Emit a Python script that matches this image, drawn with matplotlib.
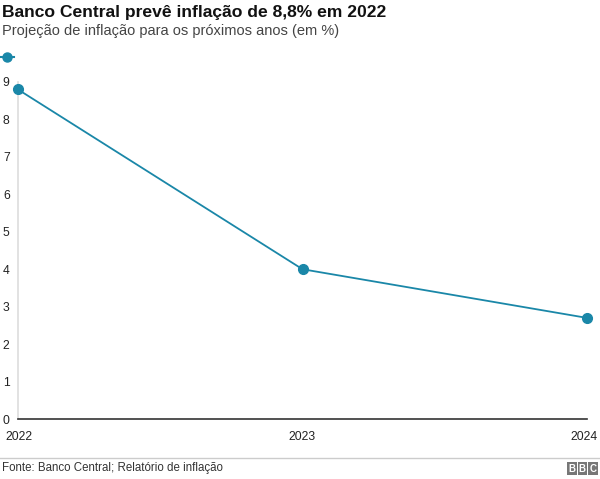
import matplotlib
matplotlib.use("Agg")
import matplotlib.pyplot as plt
from matplotlib.patches import Rectangle
from matplotlib.lines import Line2D

years = ["2022", "2023", "2024"]
values = [8.8, 4.0, 2.7]
yticks = [0, 1, 2, 3, 4, 5, 6, 7, 8, 9]

plt.rcParams['font.family'] = ['Liberation Sans', 'DejaVu Sans']
color = '#1a87a8'

fig = plt.figure(figsize=(6, 4.79), dpi=100)
W, H = 600, 479
def fx(px): return px / W
def fy(py): return 1 - py / H

ax = fig.add_axes([fx(18), fy(419), fx(587) - fx(18), fy(82) - fy(419)])
x = list(range(len(years)))
ax.plot(x, values, color=color, lw=1.3, marker='o', ms=7, markerfacecolor=color,
        markeredgecolor=color, clip_on=False, zorder=5)
ax.set_xlim(0, len(years) - 1)
ax.set_ylim(0, 9)
ax.set_yticks(yticks)
ax.set_yticklabels([str(t) for t in yticks], fontsize=8.7, color='#222222')
ax.tick_params(axis='y', length=0, pad=6)
ax.set_xticks([])
for s in ['top', 'right']:
    ax.spines[s].set_visible(False)
ax.spines['left'].set_color('#dddddd')
ax.spines['left'].set_linewidth(1.2)
ax.spines['bottom'].set_color('#333333')
ax.spines['bottom'].set_linewidth(1.2)
ax.patch.set_alpha(0)

# x labels
fig.text(fx(5), fy(437), years[0], ha='left', va='center', fontsize=8.7, color='#222222')
fig.text(fx(302), fy(437), years[1], ha='center', va='center', fontsize=8.7, color='#222222')
fig.text(fx(598), fy(437), years[2], ha='right', va='center', fontsize=8.7, color='#222222')

# titles
fig.text(fx(2), fy(12), "Banco Central prevê inflação de 8,8% em 2022", ha='left', va='center',
         fontsize=12.6, fontweight='bold', color='#111111')
fig.text(fx(2), fy(31), "Projeção de inflação para os próximos anos (em %)", ha='left', va='center',
         fontsize=10.5, color='#444444')

# legend marker
fig.add_artist(Line2D([fx(0), fx(14)], [fy(57), fy(57)], color=color, lw=1.5,
                      marker=None, transform=fig.transFigure))
fig.add_artist(Line2D([fx(7)], [fy(57)], color=color, marker='o', ms=6.5,
                      transform=fig.transFigure))

# footer line
fig.add_artist(Line2D([0, 1], [fy(458), fy(458)], color='#cccccc', lw=1,
                      transform=fig.transFigure))
fig.text(fx(2), fy(468), "Fonte: Banco Central; Relatório de inflação", ha='left', va='center',
         fontsize=8.3, color='#333333')

# BBC logo
for i, letter in enumerate("BBC"):
    x0 = 567 + i * 10.5
    fig.add_artist(Rectangle((fx(x0), fy(475)), fx(9.5), fy(462) - fy(475), transform=fig.transFigure,
                             facecolor='#777777', edgecolor='none'))
    fig.text(fx(x0 + 4.75), fy(468.5), letter, ha='center', va='center', fontsize=7,
             fontweight='bold', color='white')

fig.savefig("out.png", dpi=100)
